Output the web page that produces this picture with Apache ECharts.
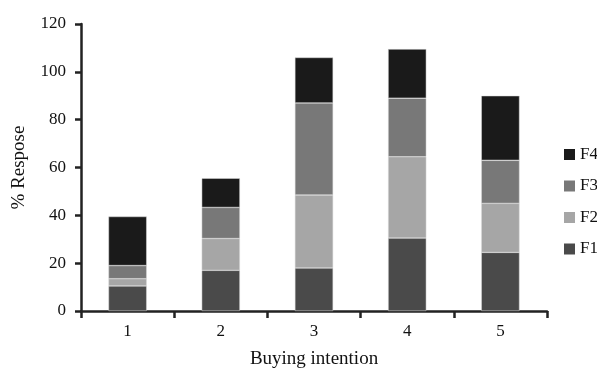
<!DOCTYPE html>
<html><head><meta charset="utf-8">
<script src="https://cdn.jsdelivr.net/npm/echarts@6/dist/echarts.min.js"></script>
<style>html,body{margin:0;padding:0;background:#fff}#c{width:597px;height:374px}</style>
</head><body><div id="c"></div>
<script>
const categories = ['1','2','3','4','5'];
const F1 = [10.5, 17, 18, 30.5, 24.5];
const F2 = [3, 13.3, 30.5, 34, 20.5];
const F3 = [5.5, 13, 38.5, 24.5, 18];
const F4 = [20.5, 12.2, 19, 20.5, 27];
const seriesNames = ['F1','F2','F3','F4'];
const seriesData = [F1, F2, F3, F4];
const colors = ['#4a4a4a','#a6a6a6','#787878','#1a1a1a'];
const font = 'Liberation Serif, Times New Roman, serif';
const chart = echarts.init(document.getElementById('c'), null, {renderer:'canvas'});
chart.setOption({
  animation:false,
  backgroundColor:'#fff',
  grid:{left:81,right:50,top:24,bottom:57,containLabel:false},
  legend:{
    data:['F4','F3','F2','F1'], orient:'vertical', left:559, top:141,
    padding:5, itemWidth:11, itemHeight:11, itemGap:14.5, icon:'rect',
    itemStyle:{borderWidth:0},
    textStyle:{fontFamily:font,fontSize:17,color:'#111',lineHeight:17}
  },
  xAxis:{
    type:'category', data:categories, boundaryGap:true,
    name:'Buying intention', nameLocation:'middle', nameGap:39,
    nameTextStyle:{fontFamily:font,fontSize:19,color:'#111'},
    axisLine:{lineStyle:{color:'#222',width:2.5}},
    axisTick:{show:true,length:7,alignWithLabel:false,lineStyle:{color:'#222',width:2.5}},
    axisLabel:{fontFamily:font,fontSize:17,color:'#111',margin:12}
  },
  yAxis:{
    type:'value', min:0, max:120, interval:20,
    name:'% Respose', nameLocation:'middle', nameGap:52,
    nameTextStyle:{fontFamily:font,fontSize:19,color:'#111'},
    axisLine:{show:true,lineStyle:{color:'#222',width:2.5}},
    axisTick:{show:true,length:6,lineStyle:{color:'#222',width:2.5}},
    axisLabel:{fontFamily:font,fontSize:17,color:'#111',margin:15},
    splitLine:{show:false}
  },
  series: seriesNames.map((n,i)=>({
    name:n, type:'bar', stack:'total', data:seriesData[i], barWidth:'41%',
    itemStyle:{color:colors[i], borderColor:'#d8d8d8', borderWidth:0.5}
  }))
});
</script></body></html>
